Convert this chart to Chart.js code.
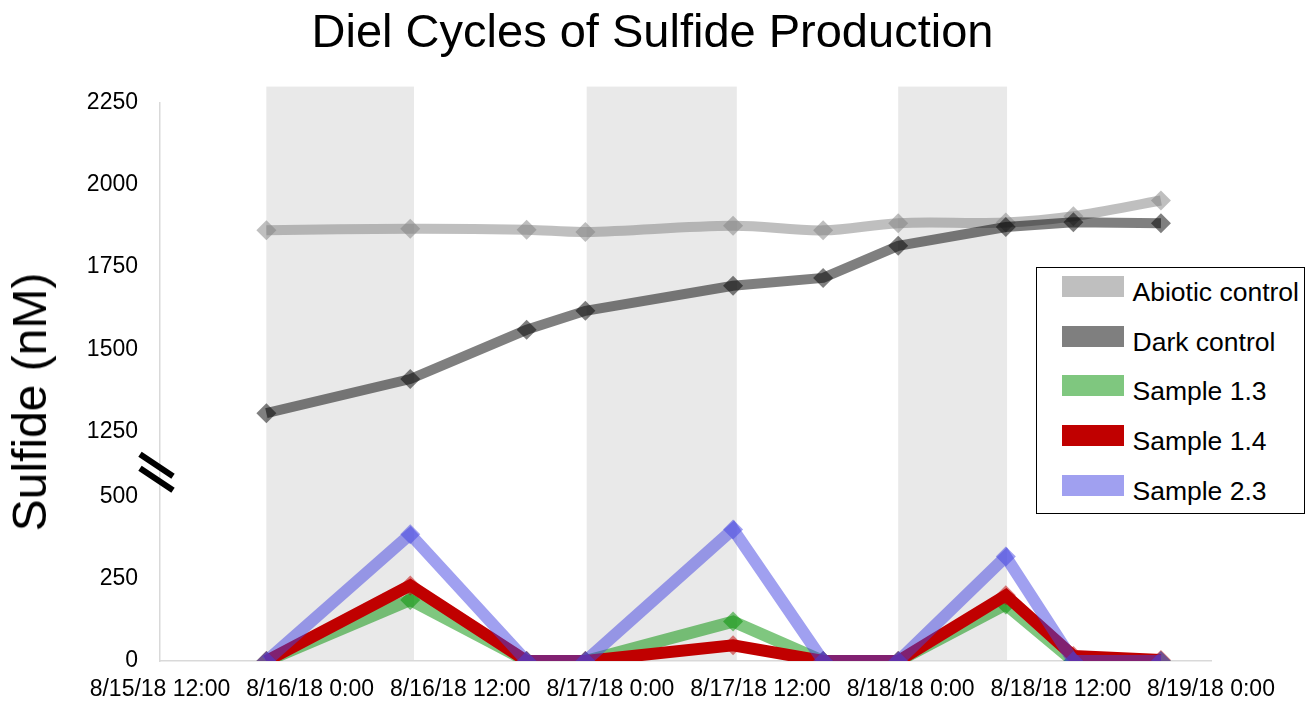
<!DOCTYPE html>
<html>
<head>
<meta charset="utf-8">
<script src="https://cdn.jsdelivr.net/npm/chart.js@4.4.1/dist/chart.umd.min.js"></script>
<style>
  body { margin: 0; background: #fff; font-family: 'Liberation Sans', Arial, sans-serif; }
  .wrap { position: relative; width: 1310px; height: 702px; }
  #title {
    position: absolute; left: 652.5px; top: 7px; transform: translateX(-50%);
    font-size: 47px; line-height: 1; white-space: nowrap; color: #000;
  }
  #ytitle {
    position: absolute; left: 30px; top: 402px; transform: translate(-50%, -50%) rotate(-90deg);
    font-size: 48px; line-height: 1; white-space: nowrap; color: #000;
  }
  #legend {
    position: absolute; left: 1036px; top: 267px; width: 267px; height: 245px;
    border: 1.5px solid #000; background: #fff;
  }
  #legend .row { height: 49.6px; display: flex; align-items: center; font-size: 26.5px; color: #000; }
  #legend .sw { width: 62px; height: 21px; margin-left: 24.5px; margin-right: 9px; position: relative; top: -6px; }
</style>
</head>
<body>
<div class="wrap">
  <canvas id="myChart" width="1310" height="702"></canvas>
  <div id="title">Diel Cycles of Sulfide Production</div>
  <div id="ytitle">Sulfide (nM)</div>
  <div id="legend"></div>
</div>
<script>
// sampling times, hours after 8/15/18 12:00
const hours = [8.5, 20, 29.3, 34, 45.8, 53, 59, 67.6, 73, 80];

const abiotic = [1862, 1867, 1864, 1857, 1876, 1862, 1884, 1886, 1905, 1953];
const darkCtl = [1305, 1409, 1559, 1617, 1693, 1717, 1815, 1872, 1887, 1884];
const sample13 = [0, 186, 0, 0, 120, 0, 0, 172, 0, 0];
const sample14 = [0, 230, 0, 0, 48, 0, 0, 200, 15, 3];
const sample23 = [0, 386, 0, 0, 401, 0, 0, 318, 0, 0];

// night (dark) periods, hours
const nightStart = [8.5, 34.1, 59];
const nightEnd = [20.3, 46.1, 67.7];

const xTicks = [0, 12, 24, 36, 48, 60, 72, 84];
const xLabels = ['8/15/18 12:00', '8/16/18 0:00', '8/16/18 12:00', '8/17/18 0:00',
  '8/17/18 12:00', '8/18/18 0:00', '8/18/18 12:00', '8/19/18 0:00'];
const yLabels = [0, 250, 500, 1250, 1500, 1750, 2000, 2250];

// broken axis: everything above the break is shifted down
const BREAK_SHIFT = 550;
const toAxis = v => (v > 1000 ? v - BREAK_SHIFT : v);
const yTicks = yLabels.map(toAxis);

function pts(arr) {
  return arr.map((v, i) => ({ x: hours[i], y: toAxis(v) }));
}

const FONT = "'Liberation Sans', Arial, sans-serif";

// grey night bands + axis break marks
const decor = {
  id: 'decor',
  beforeDraw(chart) {
    const c = chart.ctx, xs = chart.scales.x, ys = chart.scales.y;
    const top = ys.getPixelForValue(toAxis(2300));
    const bot = ys.getPixelForValue(0);
    c.save();
    c.fillStyle = '#e9e9e9';
    nightStart.forEach((s, i) => {
      const x0 = xs.getPixelForValue(s), x1 = xs.getPixelForValue(nightEnd[i]);
      c.fillRect(x0, top, x1 - x0, bot - top);
    });
    c.restore();
  },
  afterDraw(chart) {
    const c = chart.ctx, ys = chart.scales.y;
    const cx = ys.right - 2;
    const cy = ys.getPixelForValue(575);
    c.save();
    c.strokeStyle = '#000';
    c.lineWidth = 6;
    [-7, 7].forEach(d => {
      c.beginPath();
      c.moveTo(cx - 18, cy + d - 11);
      c.lineTo(cx + 15, cy + d + 11);
      c.stroke();
    });
    c.restore();
  }
};

const series = [
  { label: 'Abiotic control', data: abiotic, color: 'rgba(128,128,128,0.5)', point: 'rgba(128,128,128,0.5)', width: 10, tension: 0.35, order: 5 },
  { label: 'Dark control', data: darkCtl, color: 'rgba(0,0,0,0.5)', point: 'rgba(0,0,0,0.5)', width: 10, tension: 0, order: 4 },
  { label: 'Sample 1.3', data: sample13, color: 'rgba(0,143,0,0.5)', point: 'rgba(0,143,0,0.5)', width: 12, tension: 0, order: 3 },
  { label: 'Sample 1.4', data: sample14, color: '#c00000', point: 'rgba(192,0,0,0.5)', width: 12, tension: 0, order: 2 },
  { label: 'Sample 2.3', data: sample23, color: 'rgba(65,65,225,0.5)', point: 'rgba(65,65,225,0.5)', width: 12, tension: 0, order: 1 }
];

const ctx = document.getElementById('myChart');
new Chart(ctx, {
  type: 'line',
  data: {
    datasets: series.map(s => ({
      label: s.label,
      data: pts(s.data),
      borderColor: s.color,
      backgroundColor: s.point,
      borderWidth: s.width,
      tension: s.tension,
      pointStyle: 'rectRot',
      pointRadius: 10,
      pointBorderWidth: 0,
      pointBackgroundColor: s.point,
      borderJoinStyle: 'miter',
      order: s.order,
      fill: false
    }))
  },
  options: {
    responsive: false,
    animation: false,
    layout: { padding: { left: 0, right: 99, top: 103, bottom: 0 } },
    plugins: {
      legend: { display: false },
      tooltip: { enabled: false },
      title: { display: false }
    },
    scales: {
      x: {
        type: 'linear',
        min: 0,
        max: 84,
        afterBuildTicks: s => { s.ticks = xTicks.map(v => ({ value: v })); },
        afterFit: s => { s.height = 41; },
        grid: { color: 'transparent', drawTicks: false },
        border: { display: true, color: '#d9d9d9', width: 1.5 },
        ticks: {
          autoSkip: false,
          maxRotation: 0,
          padding: 15,
          color: '#000',
          font: { family: FONT, size: 23 },
          callback: v => xLabels[xTicks.indexOf(v)]
        }
      },
      y: {
        min: 0,
        max: toAxis(2250),
        afterBuildTicks: s => { s.ticks = yTicks.map(v => ({ value: v })); },
        afterFit: s => { s.width = 160; },
        grid: { color: 'transparent', drawTicks: false },
        border: { display: true, color: '#d9d9d9', width: 1.5 },
        ticks: {
          padding: 22,
          color: '#000',
          font: { family: FONT, size: 23 },
          callback: v => yLabels[yTicks.indexOf(v)]
        }
      }
    }
  },
  plugins: [decor]
});

// legend
const lg = document.getElementById('legend');
series.forEach(s => {
  const row = document.createElement('div');
  row.className = 'row';
  const sw = document.createElement('div');
  sw.className = 'sw';
  sw.style.background = s.color;
  const tx = document.createElement('span');
  tx.textContent = s.label;
  row.appendChild(sw);
  row.appendChild(tx);
  lg.appendChild(row);
});
</script>
</body>
</html>
